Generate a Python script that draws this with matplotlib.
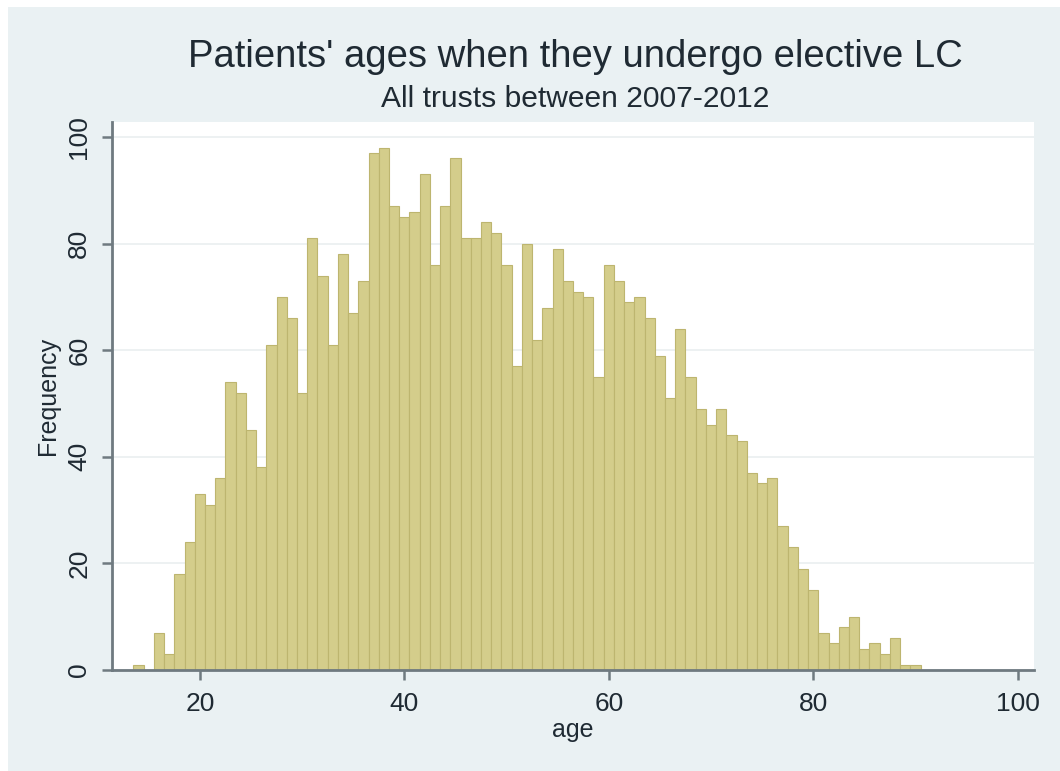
import matplotlib
matplotlib.use("Agg")
import matplotlib.pyplot as plt

ages = list(range(14, 91))
counts = [1, 0, 7, 3, 18, 24, 33, 31, 36, 54,
          52, 45, 38, 61, 70, 66, 52, 81, 74, 61,
          78, 67, 73, 97, 98, 87, 85, 86, 93, 76,
          87, 96, 81, 81, 84, 82, 76, 57, 80, 62,
          68, 79, 73, 71, 70, 55, 76, 73, 69, 70,
          66, 59, 51, 64, 55, 49, 46, 49, 44, 43,
          37, 35, 36, 27, 23, 19, 15, 7, 5, 8,
          10, 4, 5, 3, 6, 1, 1]
xticks = [20, 40, 60, 80, 100]
yticks = [0, 20, 40, 60, 80, 100]

title = "Patients' ages when they undergo elective LC"
subtitle = "All trusts between 2007-2012"
xlabel = "age"
ylabel = "Frequency"

plt.rcParams['font.family'] = ['Liberation Sans', 'DejaVu Sans']
txt = '#1f2a33'

fig = plt.figure(figsize=(10.6, 7.71), dpi=100)
fig.patch.set_facecolor('white')

bg = fig.add_axes([8/1060, -0.01, 1.02 - 8/1060, 1.01 - 7/771], zorder=-5)
bg.set_facecolor('#eaf1f3')
bg.set_xticks([]); bg.set_yticks([])
for s in bg.spines.values():
    s.set_visible(False)

L, R, T, B = 112, 1034, 122, 670
ax = fig.add_axes([L/1060, 1 - B/771, (R - L)/1060, (B - T)/771], zorder=1)
ax.set_facecolor('white')

ax.bar(ages, counts, width=1.0, color='#d4cd8b', edgecolor='#bdb56f',
       linewidth=0.8, zorder=2)

ax.set_xlim(11.4, 101.6)
ax.set_ylim(0, 100 + (137 - T) / 5.33)
ax.set_xticks(xticks)
ax.set_yticks(yticks)
ax.set_xticklabels([str(v) for v in xticks])
ax.set_yticklabels([str(v) for v in yticks], rotation=90, va='center')

ax.yaxis.grid(True, color='#eaeff0', linewidth=1.2, zorder=0)
ax.set_axisbelow(True)
for s in ['top', 'right']:
    ax.spines[s].set_visible(False)
for s in ['left', 'bottom']:
    ax.spines[s].set_color('#6f7a80')
    ax.spines[s].set_linewidth(2)

ax.tick_params(axis='both', direction='out', length=7, width=1.8,
               color='#6f7a80', labelsize=19, labelcolor=txt)
ax.tick_params(axis='x', pad=9)
ax.tick_params(axis='y', pad=8)

ax.set_xlabel(xlabel, fontsize=18, color=txt, labelpad=1)
ax.set_ylabel(ylabel, fontsize=18, color=txt, labelpad=5)

fig.text(0.5425, 1 - 57/771, title, ha='center', va='center',
         fontsize=27.5, color=txt)
fig.text(0.5425, 1 - 99/771, subtitle, ha='center', va='center',
         fontsize=21.6, color=txt)

fig.savefig('out.png', dpi=100, facecolor=fig.get_facecolor())
